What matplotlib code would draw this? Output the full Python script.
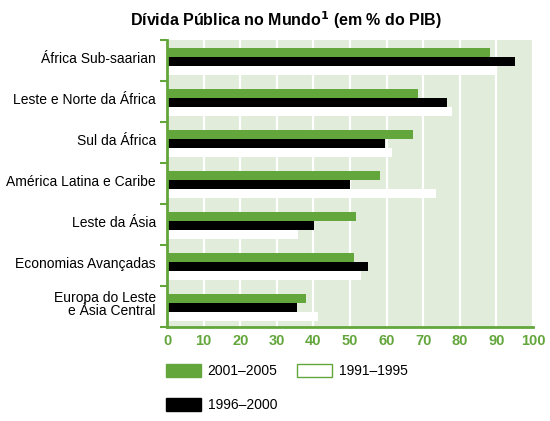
import numpy as np
import matplotlib.pyplot as plt
from matplotlib.patches import Patch

plt.rcParams['font.family'] = ['Liberation Sans', 'DejaVu Sans']

# 数据
regioes = ['África Sub-saarian', 'Leste e Norte da África', 'Sul da África',
           'América Latina e Caribe', 'Leste da Ásia', 'Economias Avançadas',
           'Europa do Leste\ne Ásia Central']
v_2001_2005 = [88.3, 68.6, 67.2, 58.2, 51.6, 51.1, 38.0]
v_1996_2000 = [95.1, 76.5, 59.6, 50.0, 40.2, 54.9, 35.5]
v_1991_1995 = [90.0, 77.9, 61.5, 73.5, 35.8, 53.0, 41.3]
xticks = list(range(0, 101, 10))

verde = '#63a63c'
fundo = '#e1edda'

fig = plt.figure(figsize=(5.5, 4.21), dpi=100)
ax = fig.add_axes([167 / 550, 1 - 327 / 421, 366 / 550, 287 / 421])
ax.set_facecolor(fundo)

n = len(regioes)
topo = np.arange(n)
h = 0.22
ax.barh(topo + 0.195 + h / 2, v_2001_2005, height=h, color=verde, zorder=3)
ax.barh(topo + 0.195 + 1.5 * h, v_1996_2000, height=h, color='black', zorder=3)
ax.barh(topo + 0.195 + 2.5 * h, v_1991_1995, height=h, color='white', zorder=3)

ax.set_xlim(0, 100)
ax.set_ylim(n, 0)
ax.set_xticks(xticks)
ax.set_xticklabels([str(t) for t in xticks], color=verde, fontweight='bold', fontsize=10.5)
ax.xaxis.grid(True, color='white', linewidth=1.6, zorder=1)
ax.set_axisbelow(True)
ax.tick_params(axis='x', length=0, pad=5)

# divisões entre grupos e rótulos
ax.set_yticks(np.arange(n + 1))
ax.set_yticklabels([])
ax.tick_params(axis='y', which='major', length=5, width=1.5, color=verde, direction='out')
ax.set_yticks(topo + 0.195 + h, minor=True)
ax.set_yticklabels(regioes, minor=True, fontsize=10, linespacing=0.95)
ax.tick_params(axis='y', which='minor', length=0, pad=8)

for lado in ['top', 'right']:
    ax.spines[lado].set_visible(False)
for lado in ['left', 'bottom']:
    ax.spines[lado].set_color(verde)
    ax.spines[lado].set_linewidth(2)
    ax.spines[lado].set_zorder(4)

fig.text(0.519, 1 - 20 / 421, 'Dívida Pública no Mundo$^\\mathbf{1}$ (em % do PIB)',
         ha='center', va='center', fontsize=11.5, fontweight='bold')

handles = [Patch(facecolor=verde, edgecolor=verde),
           Patch(facecolor='black', edgecolor='black'),
           Patch(facecolor='white', edgecolor=verde, linewidth=1)]
fig.legend(handles, ['2001–2005', '1996–2000', '1991–1995'], ncol=2,
           loc='upper left', bbox_to_anchor=(166 / 550, 1 - 364 / 421),
           frameon=False, fontsize=10, handlelength=2.5, handleheight=1.1,
           handletextpad=0.5, labelspacing=1.4, columnspacing=1.4, borderpad=0,
           borderaxespad=0)

fig.savefig('out.png', dpi=100)
